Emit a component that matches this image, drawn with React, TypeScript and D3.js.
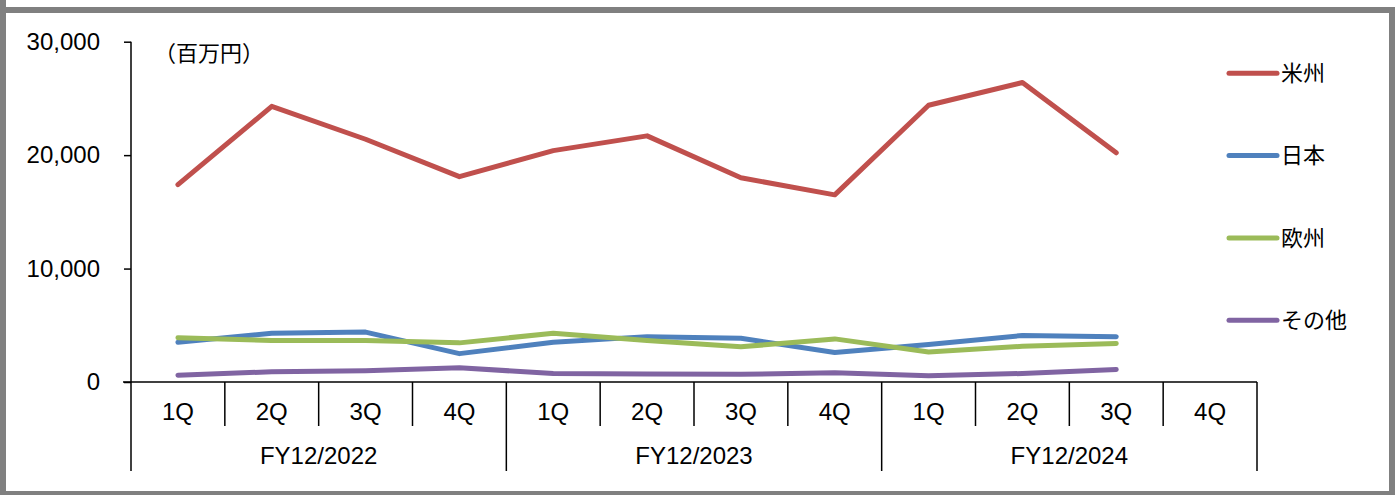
import React, { useRef, useEffect } from "react";
import * as d3 from "d3";

// quarters and fiscal years on the x axis
const quarters = ["1Q", "2Q", "3Q", "4Q", "1Q", "2Q", "3Q", "4Q", "1Q", "2Q", "3Q", "4Q"];
const years = ["FY12/2022", "FY12/2023", "FY12/2024"];

// sales by region (百万円); 4Q FY12/2024 not reported yet
const americas = [17400, 24300, 21400, 18100, 20400, 21700, 18000, 16500, 24400, 26400, 20200];
const japan = [3500, 4300, 4400, 2500, 3500, 4000, 3850, 2600, 3300, 4100, 4000];
const europe = [3900, 3650, 3650, 3450, 4300, 3650, 3100, 3800, 2650, 3150, 3400];
const others = [600, 900, 1000, 1250, 750, 700, 680, 820, 550, 750, 1100];

const seriesNames = ["米州", "日本", "欧州", "その他"];
const seriesColors = ["#C0504D", "#4F81BD", "#9BBB59", "#8064A2"];
const yTicks = [0, 10000, 20000, 30000];

const LATIN = "'Liberation Sans', Arial, sans-serif";
const CJK = "'Noto Sans CJK JP', sans-serif";

const App: React.FC = () => {
  const ref = useRef<SVGSVGElement>(null);

  useEffect(() => {
    const svg = d3.select(ref.current);
    svg.selectChildren().remove();

    const W = 1400;
    const H = 495;
    const left = 131;
    const right = 1257;
    const bottom = 382;
    const top = 41.7;

    // frame
    svg.append("rect").attr("width", W).attr("height", H).attr("fill", "#fff");
    svg
      .append("rect")
      .attr("x", 3)
      .attr("y", 10)
      .attr("width", 1389)
      .attr("height", 484)
      .attr("fill", "none")
      .attr("stroke", "#808080")
      .attr("stroke-width", 6);
    svg
      .append("line")
      .attr("x1", 3)
      .attr("x2", 3)
      .attr("y1", 0)
      .attr("y2", 10)
      .attr("stroke", "#808080")
      .attr("stroke-width", 6);

    const x = d3
      .scaleBand<number>()
      .domain(d3.range(quarters.length))
      .range([left, right]);
    const y = d3.scaleLinear().domain([0, 30000]).range([bottom, top]);

    // y axis
    const yAxis = svg
      .append("g")
      .attr("transform", `translate(${left},0)`)
      .call(
        d3
          .axisLeft(y)
          .tickValues(yTicks)
          .tickSize(7)
          .tickPadding(24)
          .tickFormat((d) => d3.format(",")(d as number))
      );
    yAxis.select(".domain").attr("stroke", "#000").attr("stroke-width", 1.5).attr("d", `M0,${top}V${bottom}`);
    yAxis.selectAll(".tick line").attr("stroke", "#000").attr("stroke-width", 1.5);
    yAxis
      .selectAll(".tick text")
      .attr("font-family", LATIN)
      .attr("font-size", 24)
      .attr("fill", "#000");

    // x axis baseline
    svg
      .append("line")
      .attr("x1", left - 8)
      .attr("x2", right)
      .attr("y1", bottom)
      .attr("y2", bottom)
      .attr("stroke", "#000")
      .attr("stroke-width", 1.5);

    // category dividers
    const bounds = d3.range(quarters.length + 1);
    svg
      .append("g")
      .selectAll("line")
      .data(bounds)
      .join("line")
      .attr("x1", (i) => (i < quarters.length ? x(i)! : right))
      .attr("x2", (i) => (i < quarters.length ? x(i)! : right))
      .attr("y1", bottom)
      .attr("y2", (i) => (i % 4 === 0 ? 471 : 426))
      .attr("stroke", "#000")
      .attr("stroke-width", 1.5);

    svg
      .append("g")
      .selectAll("text")
      .data(quarters)
      .join("text")
      .attr("x", (_, i) => x(i)! + x.bandwidth() / 2)
      .attr("y", 412)
      .attr("dy", "0.35em")
      .attr("text-anchor", "middle")
      .attr("font-family", LATIN)
      .attr("font-size", 24)
      .text((d) => d);

    svg
      .append("g")
      .selectAll("text")
      .data(years)
      .join("text")
      .attr("x", (_, i) => x(i * 4)! + x.bandwidth() * 2)
      .attr("y", 455.5)
      .attr("dy", "0.35em")
      .attr("text-anchor", "middle")
      .attr("font-family", LATIN)
      .attr("font-size", 24)
      .text((d) => d);

    // unit label
    svg
      .append("text")
      .attr("x", 154)
      .attr("y", 53)
      .attr("dy", "0.35em")
      .attr("font-family", CJK)
      .attr("font-size", 22)
      .text("（百万円）");

    // lines
    const allSeries = [americas, japan, europe, others];
    const line = d3
      .line<number>()
      .x((_, i) => x(i)! + x.bandwidth() / 2)
      .y((d) => y(d));

    allSeries.forEach((s, k) => {
      svg
        .append("path")
        .datum(s)
        .attr("fill", "none")
        .attr("stroke", seriesColors[k])
        .attr("stroke-width", 5)
        .attr("stroke-linecap", "round")
        .attr("stroke-linejoin", "round")
        .attr("d", line);
    });

    // legend
    const legend = svg
      .append("g")
      .selectAll("g")
      .data(seriesNames)
      .join("g")
      .attr("transform", (_, i) => `translate(1229,${73.3 + i * 82.3})`);
    legend
      .append("line")
      .attr("x1", 0)
      .attr("x2", 48)
      .attr("stroke", (_, i) => seriesColors[i])
      .attr("stroke-width", 5)
      .attr("stroke-linecap", "round");
    legend
      .append("text")
      .attr("x", 52)
      .attr("dy", "0.35em")
      .attr("font-family", CJK)
      .attr("font-size", 22)
      .text((d) => d);
  }, []);

  return (
    <svg
      ref={ref}
      width={1400}
      height={495}
      style={{ position: "absolute", left: 0, top: 0 }}
    />
  );
};

export default App;
